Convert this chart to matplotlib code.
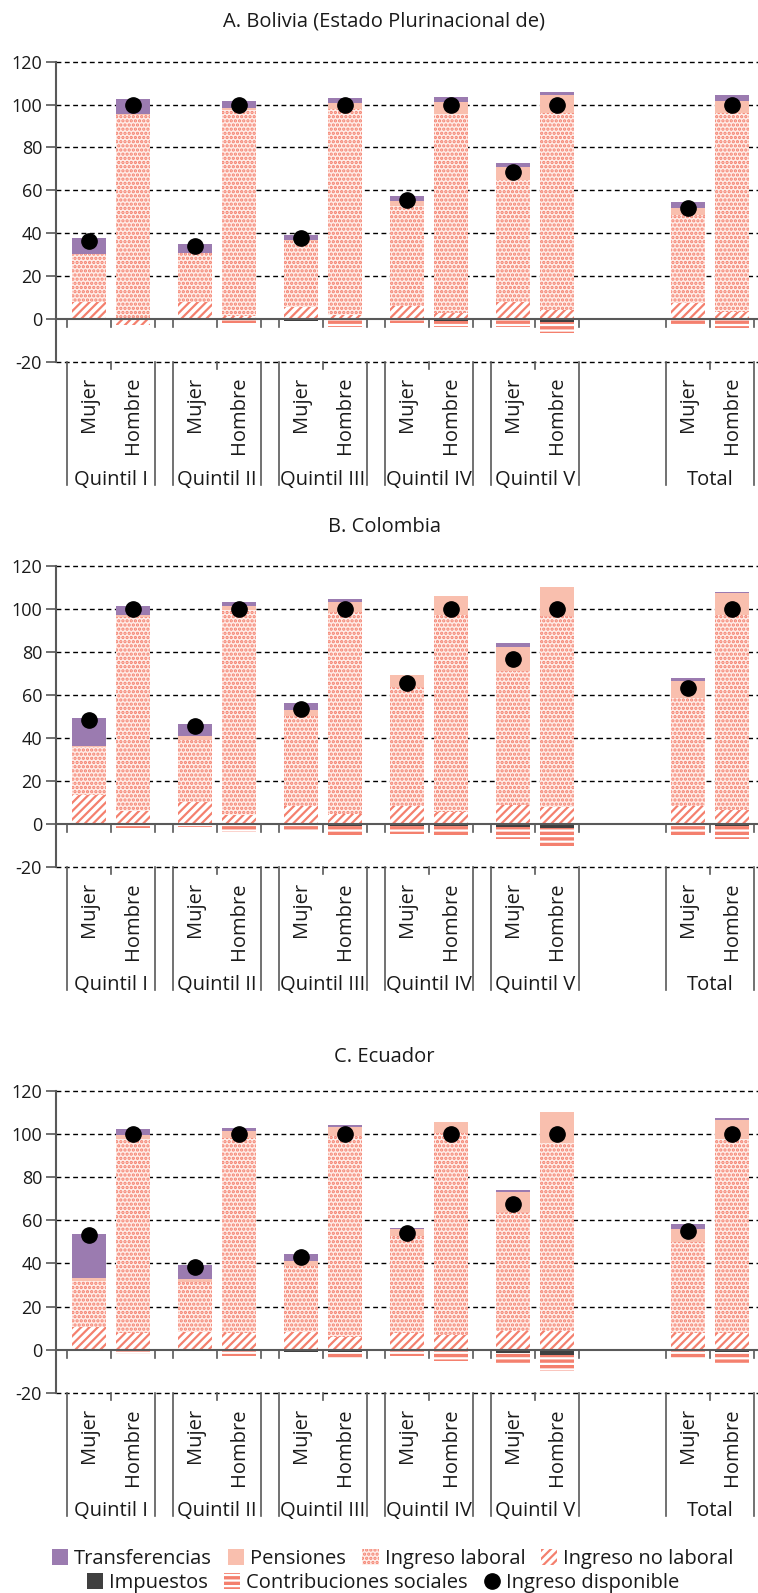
import matplotlib
matplotlib.use("Agg")
import matplotlib.pyplot as plt
import matplotlib.transforms as mtransforms
from matplotlib.patches import Patch
from matplotlib.lines import Line2D

plt.rcParams['font.family'] = ['Open Sans', 'DejaVu Sans']
plt.rcParams['hatch.linewidth'] = 1.6
plt.rcParams['axes.unicode_minus'] = False

# ---------------- data ----------------
groups = ["Quintil I", "Quintil II", "Quintil III", "Quintil IV", "Quintil V", "Total"]
sexes = ["Mujer", "Hombre"]
titles = ["A. Bolivia (Estado Plurinacional de)", "B. Colombia", "C. Ecuador"]
yticks = [-20, 0, 20, 40, 60, 80, 100, 120]
ytick_labels = ["-20", "0", "20", "40", "60", "80", "100", "120"]

# order: QI M, QI H, QII M, QII H, QIII M, QIII H, QIV M, QIV H, QV M, QV H, Total M, Total H
bol_no_laboral = [8.1, -2.3, 8.1, 1.5, 5.7, 2.0, 6.2, 2.9, 8.1, 4.2, 7.6, 3.4]
bol_laboral = [22.1, 95.0, 22.6, 96.0, 30.6, 95.8, 46.5, 92.8, 56.6, 91.9, 41.1, 92.7]
bol_pensiones = [0.3, 0.4, 0.3, 0.8, 0.5, 2.8, 2.2, 5.7, 6.2, 8.6, 3.1, 5.8]
bol_transferencias = [7.2, 7.4, 3.9, 3.6, 2.3, 2.7, 2.3, 2.3, 1.7, 1.3, 2.6, 2.8]
bol_impuestos = [-0.6, -0.3, -0.6, 0.0, -1.0, -0.5, 0.0, -0.9, 0.0, -1.2, -0.3, -0.3]
bol_contribuciones = [0.0, 0.0, 0.0, -2.0, 0.0, -3.1, -2.0, -3.0, -3.6, -5.5, -2.5, -4.0]
bol_disponible = [36.4, 100, 34.1, 100, 38.0, 100, 55.3, 100, 68.5, 100, 51.9, 100]

col_no_laboral = [13.6, 5.9, 10.2, 4.2, 8.2, 4.7, 8.2, 5.4, 9.0, 7.8, 8.2, 6.4]
col_laboral = [22.2, 90.4, 29.0, 95.2, 41.9, 93.7, 55.4, 92.0, 62.0, 88.8, 50.4, 90.8]
col_pensiones = [0.6, 0.9, 1.6, 2.2, 3.1, 5.0, 5.9, 8.8, 11.5, 13.8, 8.1, 10.2]
col_transferencias = [13.1, 4.4, 5.9, 1.8, 3.2, 1.4, 0.0, 0.0, 1.8, 0.0, 1.4, 0.7]
col_impuestos = [0.0, 0.0, 0.0, 0.0, 0.0, -0.8, -0.8, -1.1, -1.4, -2.0, 0.0, -1.1]
col_contribuciones = [-1.1, -1.7, -1.4, -3.6, -2.6, -4.2, -3.7, -4.3, -5.6, -8.0, -5.0, -6.0]
col_disponible = [48.5, 100, 45.4, 100, 53.6, 100, 65.6, 100, 76.7, 100, 63.4, 100]

ecu_no_laboral = [10.7, 7.9, 8.4, 7.9, 8.4, 6.0, 7.9, 6.8, 8.8, 8.8, 7.9, 7.9]
ecu_laboral = [21.2, 89.6, 22.9, 90.4, 30.5, 92.8, 45.0, 93.5, 55.2, 86.9, 42.2, 89.6]
ecu_pensiones = [1.4, 1.9, 1.6, 2.9, 2.0, 4.3, 3.1, 5.1, 9.3, 14.4, 6.0, 8.9]
ecu_transferencias = [20.5, 2.8, 6.5, 1.4, 3.6, 0.9, 0.4, 0.0, 0.5, 0.0, 2.3, 0.9]
ecu_impuestos = [-0.3, 0.0, -0.3, 0.0, -1.0, -0.8, -0.7, -0.3, -1.4, -2.6, -0.7, -1.0]
ecu_contribuciones = [0.0, -1.9, 0.0, -2.8, -0.5, -3.1, -2.2, -5.0, -5.1, -7.3, -3.2, -6.0]
ecu_disponible = [53.0, 100, 38.3, 100, 42.8, 100, 54.1, 100, 67.6, 100, 54.9, 100]

panels = [
    (bol_no_laboral, bol_laboral, bol_pensiones, bol_transferencias, bol_impuestos, bol_contribuciones, bol_disponible),
    (col_no_laboral, col_laboral, col_pensiones, col_transferencias, col_impuestos, col_contribuciones, col_disponible),
    (ecu_no_laboral, ecu_laboral, ecu_pensiones, ecu_transferencias, ecu_impuestos, ecu_contribuciones, ecu_disponible),
]

# ---------------- style / layout ----------------
W, H = 758, 1593
C_TRANS = '#9B7BB0'
C_PENS = '#F9BFAE'
C_SALMON = '#F4806E'
C_LABFACE = '#FFEDE8'
C_IMP = '#404040'
C_AXIS = '#595959'
C_TEXT = '#1a1a1a'
FS = 14.5
FS_TICK = 13
HATCH_LAB = '....'
HATCH_NOLAB = '////'
HATCH_CONTRIB = '---'

group_starts = [0.25, 2.659, 5.068, 7.477, 9.886, 13.864]
bar_w = 0.773
x_right = 702 / 44.0

panel_top_px = [61.7, 566.0, 1090.7]
panel_bot_px = [362.0, 867.0, 1393.0]
title_px = [22.0, 527.0, 1057.0]

fig = plt.figure(figsize=(W / 100, H / 100), dpi=100)


def fy(px):
    return 1 - px / H


for p, (nolab, lab, pens, trans, imp, contrib, disp) in enumerate(panels):
    top, bot = panel_top_px[p], panel_bot_px[p]
    ax = fig.add_axes([56 / W, fy(bot), (W - 56) / W, (bot - top) / H])
    ax.set_xlim(0, x_right)
    ax.set_ylim(-20, 120)

    xs = []
    for g in range(len(groups)):
        xs += [group_starts[g] + 0.5, group_starts[g] + 1.5]

    nolab_pos = [max(v, 0) for v in nolab]
    nolab_neg = [min(v, 0) for v in nolab]
    b = [0.0] * len(xs)
    ax.bar(xs, nolab_pos, bar_w, bottom=b, facecolor='white', edgecolor=C_SALMON,
           hatch=HATCH_NOLAB, linewidth=0, zorder=2)
    b = [b[i] + nolab_pos[i] for i in range(len(xs))]
    ax.bar(xs, lab, bar_w, bottom=b, facecolor=C_LABFACE, edgecolor=C_SALMON,
           hatch=HATCH_LAB, linewidth=0, zorder=2)
    b = [b[i] + lab[i] for i in range(len(xs))]
    ax.bar(xs, pens, bar_w, bottom=b, color=C_PENS, linewidth=0, zorder=2)
    b = [b[i] + pens[i] for i in range(len(xs))]
    ax.bar(xs, trans, bar_w, bottom=b, color=C_TRANS, linewidth=0, zorder=2)

    nb = [0.0] * len(xs)
    ax.bar(xs, imp, bar_w, bottom=nb, color=C_IMP, linewidth=0, zorder=2)
    nb = [nb[i] + imp[i] for i in range(len(xs))]
    ax.bar(xs, contrib, bar_w, bottom=nb, facecolor=C_SALMON, edgecolor='white',
           hatch=HATCH_CONTRIB, linewidth=0, zorder=2)
    nb = [nb[i] + contrib[i] for i in range(len(xs))]
    ax.bar(xs, nolab_neg, bar_w, bottom=nb, facecolor='white', edgecolor=C_SALMON,
           hatch=HATCH_NOLAB, linewidth=0, zorder=2)

    ax.plot(xs, disp, 'o', color='black', markersize=11, zorder=6, clip_on=False)

    for v in yticks:
        if v == 0:
            ax.axhline(0, color=C_AXIS, lw=1.5, zorder=4)
        else:
            ax.axhline(v, color='black', lw=1.0, ls=(0, (3.5, 2.5)), zorder=0, clip_on=False)

    for s in ['top', 'right', 'bottom']:
        ax.spines[s].set_visible(False)
    ax.spines['left'].set_color(C_AXIS)
    ax.spines['left'].set_linewidth(1.5)
    ax.set_xticks([])
    ax.set_yticks(yticks)
    ax.set_yticklabels(ytick_labels)
    ax.tick_params(axis='y', length=7, width=1.2, color=C_AXIS, labelsize=FS_TICK,
                   labelcolor=C_TEXT, pad=3)

    # category axis drawing
    tr = mtransforms.blended_transform_factory(ax.transData, fig.transFigure)
    zero_px = top + (120 / 140) * (bot - top)
    for g in range(len(groups)):
        s0 = group_starts[g]
        for xb in [s0, s0 + 1, s0 + 2]:
            ax.plot([xb, xb], [fy(zero_px), fy(zero_px + 8)], transform=tr,
                    color=C_AXIS, lw=1.2, clip_on=False, zorder=4)
        for xb in [s0, s0 + 2]:
            ax.plot([xb, xb], [fy(bot), fy(bot + 123)], transform=tr,
                    color=C_AXIS, lw=1.2, clip_on=False)
        ax.plot([s0 + 1, s0 + 1], [fy(bot), fy(bot + 7)], transform=tr,
                color=C_AXIS, lw=1.2, clip_on=False)
        for k, sx in enumerate(sexes):
            ax.text(s0 + 0.5 + k, fy(bot + 15), sx, transform=tr, rotation=90,
                    ha='center', va='top', fontsize=FS, color=C_TEXT)
        ax.text(s0 + 1, fy(bot + 118), groups[g], transform=tr, ha='center',
                va='center', fontsize=FS, color=C_TEXT)

    fig.text(384 / W, fy(title_px[p]), titles[p], ha='center', va='center',
             fontsize=FS, color=C_TEXT)

# ---------------- legend ----------------
h1 = [
    Patch(facecolor=C_TRANS, linewidth=0, label='Transferencias'),
    Patch(facecolor=C_PENS, linewidth=0, label='Pensiones'),
    Patch(facecolor=C_LABFACE, edgecolor=C_SALMON, hatch=HATCH_LAB, linewidth=0, label='Ingreso laboral'),
    Patch(facecolor='white', edgecolor=C_SALMON, hatch=HATCH_NOLAB, linewidth=0, label='Ingreso no laboral'),
]
h2 = [
    Patch(facecolor=C_IMP, linewidth=0, label='Impuestos'),
    Patch(facecolor=C_SALMON, edgecolor='white', hatch=HATCH_CONTRIB, linewidth=0, label='Contribuciones sociales'),
    Line2D([], [], marker='o', color='black', ls='none', markersize=11, label='Ingreso disponible'),
]
common = dict(frameon=False, fontsize=FS, handlelength=0.8, handleheight=0.8,
              handletextpad=0.3, columnspacing=0.8, borderpad=0, borderaxespad=0)
leg1 = fig.legend(handles=h1, loc='center', bbox_to_anchor=(393 / W, fy(1559)), ncol=4, **common)
leg2 = fig.legend(handles=h2, loc='center', bbox_to_anchor=(383 / W, fy(1583)), ncol=3, **common)
for lg in (leg1, leg2):
    for t in lg.get_texts():
        t.set_color(C_TEXT)

fig.savefig('out.png', dpi=100)
